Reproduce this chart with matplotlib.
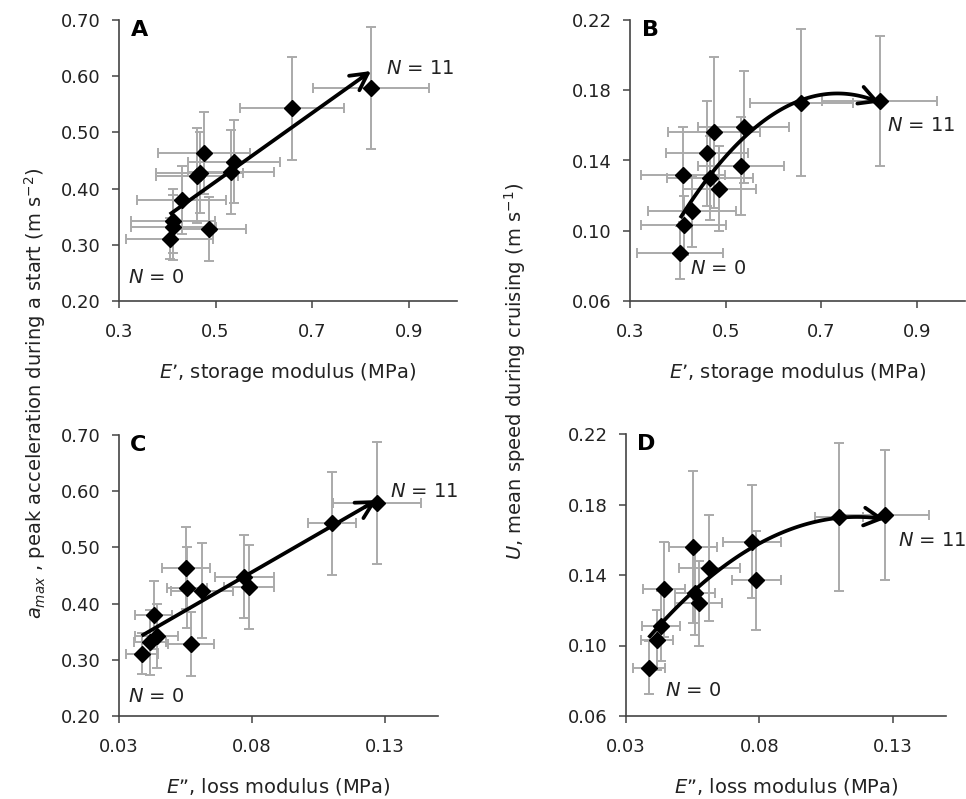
import numpy as np
import matplotlib
matplotlib.use('Agg')
import matplotlib.pyplot as plt

# one entry per specimen (N = 0 ... 11)
E_storage = [0.405, 0.412, 0.411, 0.430, 0.487, 0.467, 0.461, 0.476, 0.532, 0.538, 0.658, 0.822]
E_storage_sd = [0.090, 0.088, 0.087, 0.092, 0.076, 0.090, 0.085, 0.096, 0.090, 0.095, 0.108, 0.120]
E_loss = [0.0385, 0.0415, 0.0442, 0.0431, 0.0572, 0.0557, 0.0612, 0.0551, 0.0789, 0.0772, 0.1100, 0.1270]
E_loss_sd = [0.0060, 0.0060, 0.0080, 0.0070, 0.0087, 0.0075, 0.0115, 0.0090, 0.0093, 0.0110, 0.0090, 0.0165]
a_max = [0.311, 0.331, 0.343, 0.380, 0.328, 0.428, 0.423, 0.464, 0.429, 0.448, 0.543, 0.579]
a_max_sd = [0.037, 0.058, 0.057, 0.060, 0.057, 0.072, 0.085, 0.073, 0.075, 0.074, 0.092, 0.108]
U = [0.0875, 0.103, 0.132, 0.111, 0.124, 0.130, 0.144, 0.156, 0.137, 0.159, 0.173, 0.174]
U_sd = [0.015, 0.017, 0.027, 0.020, 0.024, 0.024, 0.030, 0.043, 0.028, 0.032, 0.042, 0.037]

storage_ticks = [0.3, 0.5, 0.7, 0.9]
loss_ticks = [0.03, 0.08, 0.13]
acc_ticks = [0.20, 0.30, 0.40, 0.50, 0.60, 0.70]
speed_ticks = [0.06, 0.10, 0.14, 0.18, 0.22]

plt.rcParams['font.family'] = 'DejaVu Sans'
plt.rcParams['mathtext.fontset'] = 'dejavusans'
TXT = '#222222'

fig = plt.figure(figsize=(9.66, 7.99), dpi=100)


def panel(rect, x, xerr, y, yerr, deg, xlim, xticks, xfmt, ylim, yticks,
          letter, xlabel, n11_pos, n0_pos):
    ax = fig.add_axes(rect)
    ax.errorbar(x, y, xerr=xerr, yerr=yerr, fmt='none', ecolor='#aaaaaa',
                elinewidth=1.4, capsize=3.5, capthick=1.4, zorder=1)
    ax.plot(x, y, 'D', color='black', ms=8, zorder=3)

    # fitted trend, drawn from the first to the last specimen
    coef = np.polyfit(x, y, deg)
    xs = np.linspace(min(x), max(x), 100)
    ys = np.polyval(coef, xs)
    ax.plot(xs[:-2], ys[:-2], color='black', lw=2.7, zorder=4,
            solid_capstyle='butt')
    ax.annotate('', xy=(xs[-1], ys[-1]), xytext=(xs[-6], ys[-6]),
                arrowprops=dict(arrowstyle='->,head_length=0.6,head_width=0.32',
                                lw=2.7, color='black', mutation_scale=20,
                                shrinkA=0, shrinkB=0), zorder=5)

    ax.set_xlim(*xlim)
    ax.set_ylim(*ylim)
    ax.set_xticks(xticks)
    ax.set_xticklabels([xfmt % v for v in xticks])
    ax.set_yticks(yticks)
    ax.set_yticklabels(['%.2f' % v for v in yticks])
    for s in ['top', 'right']:
        ax.spines[s].set_visible(False)
    for s in ['left', 'bottom']:
        ax.spines[s].set_color('#444444')
        ax.spines[s].set_linewidth(1.2)
    ax.tick_params(direction='out', length=5, width=1.1, color='#444444',
                   labelsize=13, labelcolor=TXT)
    ax.tick_params(axis='x', pad=11)
    ax.tick_params(axis='y', pad=8)
    ax.set_xlabel(xlabel, fontsize=14, color=TXT, labelpad=14)

    ax.text(0.035, 1.0, letter, transform=ax.transAxes, fontsize=16,
            fontweight='bold', va='top', ha='left', color='black')
    ax.text(n11_pos[0], n11_pos[1], '$N$ = 11', transform=ax.transAxes,
            fontsize=14, va='center', ha='left', color=TXT)
    ax.text(n0_pos[0], n0_pos[1], '$N$ = 0', transform=ax.transAxes,
            fontsize=14, va='center', ha='left', color=TXT)
    return ax


W, H = 966.0, 799.0


def rect(x0, x1, y0, y1):
    return [x0 / W, 1 - y1 / H, (x1 - x0) / W, (y1 - y0) / H]


panel(rect(119, 457, 20, 301), E_storage, E_storage_sd, a_max, a_max_sd, 1,
      (0.3, 1.0), storage_ticks, '%.1f', (0.2, 0.7), acc_ticks, 'A',
      '$E$’, storage modulus (MPa)', (0.79, 0.826), (0.027, 0.085))
panel(rect(630, 965, 20, 301), E_storage, E_storage_sd, U, U_sd, 2,
      (0.3, 1.0), storage_ticks, '%.1f', (0.06, 0.22), speed_ticks, 'B',
      '$E$’, storage modulus (MPa)', (0.768, 0.624), (0.18, 0.117))
panel(rect(119, 438, 435, 716), E_loss, E_loss_sd, a_max, a_max_sd, 1,
      (0.03, 0.15), loss_ticks, '%.2f', (0.2, 0.7), acc_ticks, 'C',
      '$E$”, loss modulus (MPa)', (0.85, 0.80), (0.028, 0.068))
panel(rect(626, 946, 434, 716), E_loss, E_loss_sd, U, U_sd, 2,
      (0.03, 0.15), loss_ticks, '%.2f', (0.06, 0.22), speed_ticks, 'D',
      '$E$”, loss modulus (MPa)', (0.85, 0.624), (0.122, 0.092))

fig.text(35 / W, 1 - 393 / H,
         '$a_{max}$ , peak acceleration during a start (m s$^{\\mathregular{-2}}$)',
         rotation=90, ha='center', va='center', fontsize=14, color=TXT)
fig.text(515 / W, 1 - 371 / H,
         '$U$, mean speed during cruising (m s$^{\\mathregular{-1}}$)',
         rotation=90, ha='center', va='center', fontsize=14, color=TXT)

fig.savefig('out.png', dpi=100)
